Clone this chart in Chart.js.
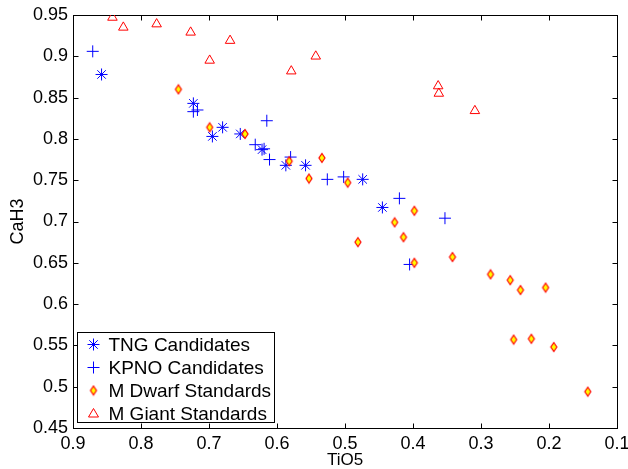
<!DOCTYPE html>
<html>
<head>
<meta charset="utf-8">
<script src="https://cdn.jsdelivr.net/npm/chart.js@4/dist/chart.umd.min.js"></script>
<style>
  body { margin: 0; background: #fff; }
  canvas { display: block; }
</style>
</head>
<body>
<canvas id="c" width="628" height="469"></canvas>
<script>
// values
const tngTiO5 = [0.858, 0.723, 0.695, 0.680, 0.654, 0.622, 0.587, 0.558, 0.474, 0.445];
const tngCaH3 = [0.878, 0.843, 0.803, 0.814, 0.806, 0.787, 0.768, 0.768, 0.751, 0.717];

const kpnoTiO5 = [0.871, 0.723, 0.717, 0.615, 0.632, 0.619, 0.611, 0.580, 0.526, 0.502, 0.420, 0.353, 0.405];
const kpnoCaH3 = [0.906, 0.833, 0.835, 0.822, 0.793, 0.788, 0.775, 0.778, 0.751, 0.754, 0.728, 0.704, 0.648];

const dwarfTiO5 = [0.745, 0.699, 0.647, 0.582, 0.553, 0.534, 0.496, 0.481, 0.427, 0.398, 0.414,
                   0.398, 0.342, 0.286, 0.257, 0.242, 0.205, 0.252, 0.226, 0.193, 0.143];
const dwarfCaH3 = [0.860, 0.814, 0.806, 0.773, 0.752, 0.777, 0.747, 0.675, 0.699, 0.713, 0.681,
                   0.650, 0.657, 0.636, 0.629, 0.617, 0.620, 0.557, 0.558, 0.548, 0.494];

const giantTiO5 = [0.842, 0.826, 0.777, 0.727, 0.699, 0.669, 0.579, 0.543, 0.363, 0.362, 0.309];
const giantCaH3 = [0.947, 0.935, 0.939, 0.929, 0.895, 0.919, 0.882, 0.900, 0.864, 0.855, 0.834];

const xTicks = [0.9, 0.8, 0.7, 0.6, 0.5, 0.4, 0.3, 0.2, 0.1];
const yTicks = [0.45, 0.5, 0.55, 0.6, 0.65, 0.7, 0.75, 0.8, 0.85, 0.9, 0.95];

const seriesNames = ['TNG Candidates', 'KPNO Candidates', 'M Dwarf Standards', 'M Giant Standards'];

const FONT = '"Liberation Sans", Arial, Helvetica, sans-serif';

const pts = (xs, ys) => xs.map((x, i) => ({ x: x, y: ys[i] }));

// matlab style diamond, taller than wide
function diamondImg() {
  const cv = document.createElement('canvas');
  cv.width = 10; cv.height = 12;
  const g = cv.getContext('2d');
  g.beginPath();
  g.moveTo(5, 1.5); g.lineTo(8, 6); g.lineTo(5, 10.5); g.lineTo(2, 6); g.closePath();
  g.fillStyle = '#ffff00';
  g.fill();
  g.strokeStyle = '#ff0000';
  g.lineWidth = 1.2;
  g.stroke();
  return cv;
}
const diamond = diamondImg();

// frame + inward ticks on all sides
const framePlugin = {
  id: 'frame',
  beforeDatasetsDraw(chart) {
    const { ctx, chartArea: a, scales } = chart;
    const L = Math.round(a.left) + 0.5, R = Math.round(a.right) + 0.5;
    const T = Math.round(a.top) + 0.5, B = Math.round(a.bottom) + 0.5;
    ctx.save();
    ctx.strokeStyle = '#000';
    ctx.lineWidth = 1;
    ctx.strokeRect(L, T, R - L, B - T);
    ctx.beginPath();
    xTicks.forEach(v => {
      const px = Math.round(scales.x.getPixelForValue(v)) + 0.5;
      ctx.moveTo(px, B); ctx.lineTo(px, B - 5);
      ctx.moveTo(px, T); ctx.lineTo(px, T + 5);
    });
    yTicks.forEach(v => {
      const py = Math.round(scales.y.getPixelForValue(v)) + 0.5;
      ctx.moveTo(L, py); ctx.lineTo(L + 5, py);
      ctx.moveTo(R, py); ctx.lineTo(R - 5, py);
    });
    ctx.stroke();
    ctx.restore();
  }
};

function drawMarker(ctx, kind, x, y) {
  ctx.save();
  ctx.lineWidth = 1;
  if (kind === 0 || kind === 1) {
    ctx.strokeStyle = '#0000ff';
    ctx.beginPath();
    ctx.moveTo(x - 6, y); ctx.lineTo(x + 6, y);
    ctx.moveTo(x, y - 6); ctx.lineTo(x, y + 6);
    if (kind === 0) {
      const d = 6 * Math.SQRT1_2;
      ctx.moveTo(x - d, y - d); ctx.lineTo(x + d, y + d);
      ctx.moveTo(x - d, y + d); ctx.lineTo(x + d, y - d);
    }
    ctx.stroke();
  } else if (kind === 2) {
    ctx.drawImage(diamond, x - 5, y - 6);
  } else {
    ctx.strokeStyle = '#ff0000';
    ctx.beginPath();
    ctx.moveTo(x, y - 5); ctx.lineTo(x + 5, y + 3.5); ctx.lineTo(x - 5, y + 3.5); ctx.closePath();
    ctx.stroke();
  }
  ctx.restore();
}

// legend box sits inside the plot, bottom left
const legendPlugin = {
  id: 'boxLegend',
  afterDraw(chart) {
    const { ctx, chartArea: a } = chart;
    const bx = Math.round(a.left) + 4.5, bw = 197;
    const bh = 90, by = Math.round(a.bottom) - 5.5 - bh;
    ctx.save();
    ctx.fillStyle = '#fff';
    ctx.fillRect(bx, by, bw, bh);
    ctx.strokeStyle = '#000';
    ctx.lineWidth = 1;
    ctx.strokeRect(bx, by, bw, bh);
    ctx.font = '19px ' + FONT;
    ctx.fillStyle = '#000';
    ctx.textBaseline = 'middle';
    seriesNames.forEach((name, i) => {
      const cy = by + 12 + i * 23;
      drawMarker(ctx, i, bx + 16, cy);
      ctx.fillText(name, bx + 31, cy + 1);
    });
    ctx.restore();
  }
};

const fmt = v => String(+Number(v).toFixed(2));

new Chart(document.getElementById('c'), {
  type: 'scatter',
  data: {
    datasets: [
      {
        label: seriesNames[0],
        data: pts(tngTiO5, tngCaH3),
        pointStyle: 'star',
        radius: 6,
        borderColor: '#0000ff',
        borderWidth: 1,
        order: 4
      },
      {
        label: seriesNames[1],
        data: pts(kpnoTiO5, kpnoCaH3),
        pointStyle: 'cross',
        radius: 6,
        borderColor: '#0000ff',
        borderWidth: 1,
        order: 3
      },
      {
        label: seriesNames[2],
        data: pts(dwarfTiO5, dwarfCaH3),
        pointStyle: diamond,
        radius: 5,
        order: 2
      },
      {
        label: seriesNames[3],
        data: pts(giantTiO5, giantCaH3),
        pointStyle: 'triangle',
        radius: 5.5,
        borderColor: '#ff0000',
        backgroundColor: 'rgba(0,0,0,0)',
        borderWidth: 1,
        order: 1
      }
    ]
  },
  options: {
    responsive: false,
    animation: false,
    devicePixelRatio: 1,
    layout: { padding: { top: 15, right: 11, left: 0, bottom: 0 } },
    plugins: {
      legend: { display: false },
      tooltip: { enabled: false }
    },
    scales: {
      x: {
        type: 'linear',
        reverse: true,
        min: 0.1,
        max: 0.9,
        afterBuildTicks: s => { s.ticks = xTicks.map(v => ({ value: v })); },
        afterFit: s => { s.height = 41; s.paddingLeft = 0; s.paddingRight = 0; },
        grid: { display: false, drawTicks: false },
        border: { display: false },
        ticks: {
          autoSkip: false,
          maxRotation: 0,
          padding: 5,
          color: '#000',
          font: { family: FONT, size: 18 },
          callback: fmt
        },
        title: {
          display: true,
          text: 'TiO5',
          color: '#000',
          font: { family: FONT, size: 17, lineHeight: 1 },
          padding: { top: 0, bottom: 0 }
        }
      },
      y: {
        type: 'linear',
        min: 0.45,
        max: 0.95,
        afterBuildTicks: s => { s.ticks = yTicks.map(v => ({ value: v })); },
        afterFit: s => { s.width = 73; s.paddingTop = 0; s.paddingBottom = 0; },
        grid: { display: false, drawTicks: false },
        border: { display: false },
        ticks: {
          autoSkip: false,
          padding: 5,
          color: '#000',
          font: { family: FONT, size: 18 },
          callback: fmt
        },
        title: {
          display: true,
          text: 'CaH3',
          color: '#000',
          font: { family: FONT, size: 18, lineHeight: 1 },
          padding: { top: 9, bottom: 0 }
        }
      }
    }
  },
  plugins: [framePlugin, legendPlugin]
});
</script>
</body>
</html>
